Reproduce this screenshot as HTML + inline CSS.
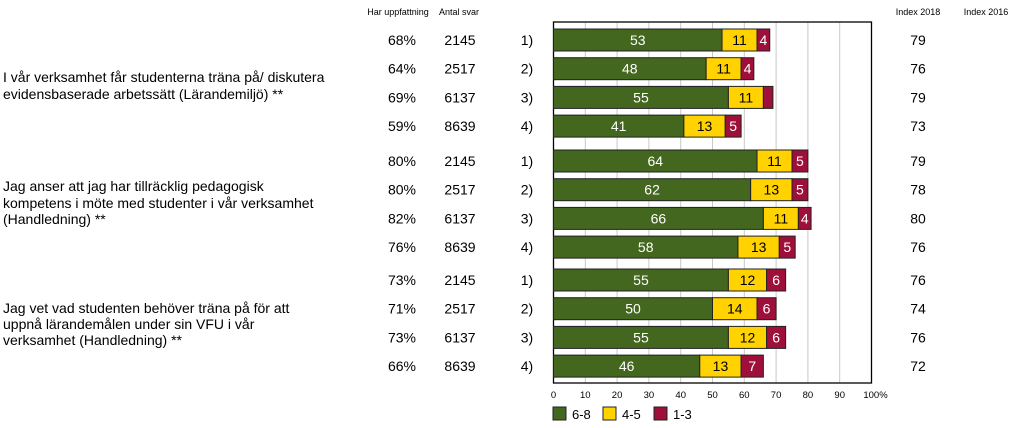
<!DOCTYPE html>
<html><head><meta charset="utf-8"><style>
body{margin:0;background:#fff;}
svg{display:block;font-family:"Liberation Sans",sans-serif;}
</style></head><body>
<svg id="c" width="1024" height="428">
<g id="grid"></g>
<g id="bars"></g>
<g id="text"></g>
</svg>
<script>
const high=[53,48,55,41,64,62,66,58,55,50,55,46];
const mid=[11,11,11,13,11,13,11,13,12,14,12,13];
const low=[4,4,3,5,5,5,4,5,6,6,6,7];
const pct=["68%","64%","69%","59%","80%","80%","82%","76%","73%","71%","73%","66%"];
const counts=["2145","2517","6137","8639","2145","2517","6137","8639","2145","2517","6137","8639"];
const groupNo=["1)","2)","3)","4)","1)","2)","3)","4)","1)","2)","3)","4)"];
const idx2018=["79","76","79","73","79","78","80","76","76","74","76","72"];
const ticks=[0,10,20,30,40,50,60,70,80,90,100];
const questions=[["I vår verksamhet får studenterna träna på/ diskutera","evidensbaserade arbetssätt (Lärandemiljö) **"],["Jag anser att jag har tillräcklig pedagogisk","kompetens i möte med studenter i vår verksamhet","(Handledning) **"],["Jag vet  vad studenten behöver träna på för att","uppnå lärandemålen under sin VFU i vår","verksamhet (Handledning) **"]];
const NS="http://www.w3.org/2000/svg";
const X0=553.5,W=318,TOP=22,BOT=383;
const x=v=>X0+v/100*W;
const rowY=i=>{const g=Math.floor(i/4),r=i%4;return [40,161,280][g]+r*28.7;};
function mk(p,t,a,txt){const e=document.createElementNS(NS,t);for(const k in a)e.setAttribute(k,a[k]);if(txt!==undefined)e.textContent=txt;p.appendChild(e);return e;}
const grid=document.getElementById('grid'),bars=document.getElementById('bars'),tx=document.getElementById('text');
ticks.forEach((t,i)=>{
 if(i>0&&i<ticks.length-1){const l=mk(grid,'line',{x1:x(t),x2:x(t),y1:TOP,y2:BOT,stroke:'#c8c8c8','stroke-width':1});
 
 }
 const lb=mk(tx,'text',{x:x(t)+(t===100?4:0),y:398,'font-size':9.5,'text-anchor':'middle',fill:'#000'},t===100?'100%':String(t));
 
 
});
const fr=mk(grid,'rect',{x:X0,y:TOP,width:W,height:BOT-TOP,fill:'none',stroke:'#000','stroke-width':1.3});


const cols=['#43671e','#ffd200','#9e0f3a'],tc=['#fff','#000','#fff'];
high.forEach((h,i)=>{
 const yc=rowY(i),vals=[h,mid[i],low[i]];let acc=0;
 vals.forEach((v,k)=>{
  const r=mk(bars,'rect',{x:x(acc),y:yc-11,width:x(acc+v)-x(acc),height:22,fill:cols[k],stroke:'#222','stroke-width':1});
  
  
  if(v>=4){const t=mk(bars,'text',{x:(x(acc)+x(acc+v))/2,y:yc+5,'font-size':14,'text-anchor':'middle',fill:tc[k]},String(v));
  
  }
  acc+=v;
 });
 [[pct[i],402],[counts[i],460],[groupNo[i],527],[idx2018[i],918]].forEach(([s,px])=>{
  const t=mk(tx,'text',{x:px,y:yc+5,'font-size':14,'text-anchor':'middle',fill:'#000'},s);
  
  
 });
});
const qy=[[77,94],[186,203,219],[308,324,340]];
questions.forEach((q,g)=>q.forEach((s,j)=>{
 const t=mk(tx,'text',{x:3,y:qy[g][j]+5,'font-size':14,fill:'#000'},s);
 
 
}));
[["Har uppfattning",398],["Antal svar",459],["Index 2018",918],["Index 2016",986]].forEach(([s,px])=>{
 const t=mk(tx,'text',{x:px,y:15,'font-size':9,'text-anchor':'middle',fill:'#000'},s);
 
 
});
[["6-8",553],["4-5",603],["1-3",654]].forEach(([s,px],k)=>{
 const r=mk(tx,'rect',{x:px,y:407,width:13,height:13,fill:cols[k],stroke:'#222'});
 
 
 const t=mk(tx,'text',{x:px+19,y:419,'font-size':13,fill:'#000'},s);
 
 
});
</script>
</body></html>
